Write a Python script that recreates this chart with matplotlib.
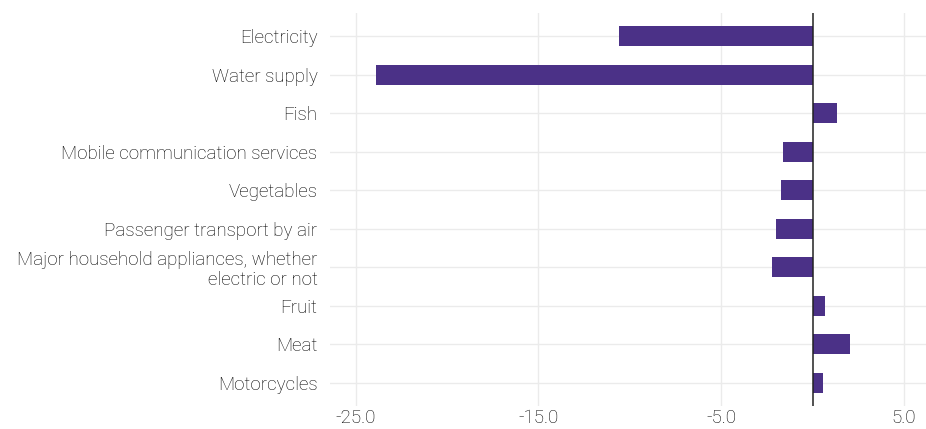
import matplotlib
matplotlib.use("Agg")
import matplotlib.pyplot as plt
import numpy as np

categories = ["Electricity", "Water supply", "Fish", "Mobile communication services",
              "Vegetables", "Passenger transport by air",
              "Major household appliances, whether\nelectric or not",
              "Fruit", "Meat", "Motorcycles"]
values = [-10.6, -23.9, 1.35, -1.6, -1.75, -2.0, -2.2, 0.7, 2.05, 0.55]
xticks = [-25.0, -15.0, -5.0, 5.0]

plt.rcParams["font.family"] = ["Roboto", "DejaVu Sans"]

fig = plt.figure(figsize=(9.26, 4.29), dpi=100)
ax = fig.add_axes([330 / 926, 1 - 406 / 429, 596 / 926, 393 / 429])

y = np.arange(len(categories))
ax.barh(y, values, height=0.52, color="#4b3187", zorder=3)
ax.axvline(0, color="#222222", lw=1.1, zorder=4)

ax.set_ylim(len(categories) - 0.4, -0.6)
ax.set_xlim(-26.4, 6.2)
ax.set_yticks(y)
ax.set_yticklabels(categories, fontweight="light", fontsize=13.5, color="black",
                   linespacing=1.15)
ax.set_xticks(xticks)
ax.set_xticklabels([f"{t:.1f}" for t in xticks], fontweight="light", fontsize=13.5,
                   color="black")
ax.tick_params(length=0)
ax.tick_params(axis="x", pad=2.5)
ax.tick_params(axis="y", pad=9)
ax.grid(True, color="#ebebeb", lw=1, zorder=0)
for s in ax.spines.values():
    s.set_visible(False)

fig.savefig("out.png", dpi=100)
